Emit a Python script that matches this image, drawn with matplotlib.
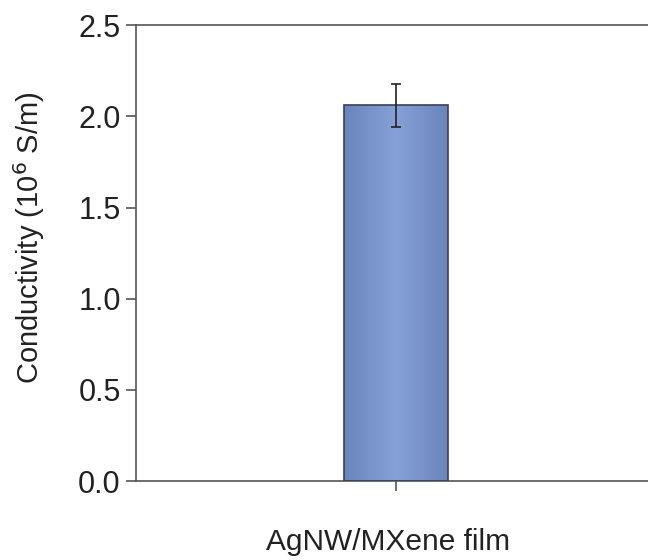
import numpy as np
import matplotlib.pyplot as plt
from matplotlib.colors import LinearSegmentedColormap

plt.rcParams['font.family'] = ['Liberation Sans', 'DejaVu Sans']

samples = ['AgNW/MXene film']
conductivity = [2.06]      # 10^6 S/m
conductivity_err = [0.12]

fig = plt.figure(figsize=(6.48, 5.6), dpi=100)
ax = fig.add_axes([0.21, 0.141, 0.801, 0.814])

bars = ax.bar(range(len(samples)), conductivity, width=0.4, color='none',
              edgecolor='#3c3f55', linewidth=1.2, zorder=3)

# horizontal shading: darker at the sides, lighter towards the middle
shade = LinearSegmentedColormap.from_list('shade', ['#6a85bc', '#86a1d8', '#6a85bc'])
grad = np.linspace(0, 1, 256).reshape(1, -1)
for b in bars:
    x0, y0 = b.get_x(), b.get_y()
    im = ax.imshow(grad, cmap=shade, aspect='auto', zorder=2,
                   extent=[x0, x0 + b.get_width(), y0, y0 + b.get_height()])
    im.set_clip_path(b)

ax.errorbar(range(len(samples)), conductivity, yerr=conductivity_err, fmt='none',
            ecolor='#222222', elinewidth=1.2, capsize=3.3, capthick=1.2, zorder=4)

ax.set_xlim(-1, 1)
ax.set_ylim(0, 2.5)
ax.set_yticks([0, 0.5, 1.0, 1.5, 2.0, 2.5])
ax.set_yticklabels(['0.0', '0.5', '1.0', '1.5', '2.0', '2.5'])
ax.set_xticks(range(len(samples)))
ax.set_xticklabels([''])
ax.set_xlabel(samples[0], fontsize=21.5, color='#222222')
ax.set_ylabel('Conductivity (10$^{6}$ S/m)', fontsize=21, color='#222222')
ax.xaxis.set_label_coords(0.485, -0.102)
ax.yaxis.set_label_coords(-0.172, 0.533)

for s in ['top', 'bottom', 'left']:
    ax.spines[s].set_color('#555555')
    ax.spines[s].set_linewidth(1.2)
ax.spines['right'].set_visible(False)
ax.tick_params(axis='both', direction='out', length=7, width=1.2, color='#555555',
               labelsize=22, pad=4, labelcolor='#222222')

fig.savefig('out.png', dpi=100)
